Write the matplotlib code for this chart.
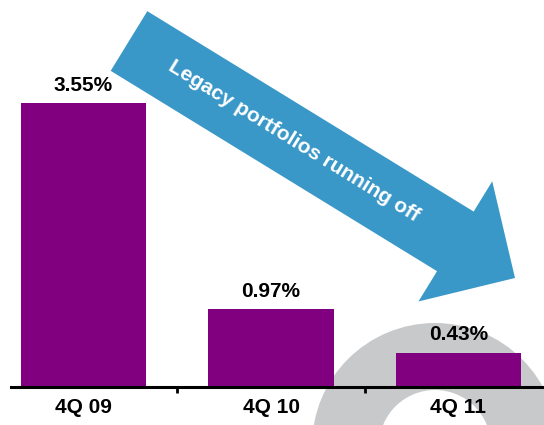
import matplotlib
matplotlib.use("Agg")
import matplotlib.pyplot as plt
from matplotlib.patches import Wedge, FancyArrow
from matplotlib.transforms import Affine2D

quarters = ["4Q 09", "4Q 10", "4Q 11"]
rates = [3.55, 0.97, 0.43]
arrow_text = "Legacy portfolios running off"

purple = "#800080"
blue = "#3a98c8"
ring_grey = "#c8c9cb"

plt.rcParams["font.family"] = ["Liberation Sans", "DejaVu Sans"]

W, H = 544, 425
fig = plt.figure(figsize=(W / 100, H / 100), dpi=100)
# pixel coords with origin at the top-left corner
px = Affine2D().scale(1 / 100, -1 / 100).translate(0, H / 100) + fig.dpi_scale_trans

# grey ring in the lower right corner
ring = Wedge((435, 446), 123, 0, 360, width=67, facecolor=ring_grey,
             edgecolor="none", transform=px, zorder=-1)
fig.add_artist(ring)

ax = fig.add_axes([11 / W, 38 / H, 532 / W, 387 / H])
ax.patch.set_visible(False)

x = list(range(len(quarters)))
ax.bar(x, rates, width=0.667, color=purple, zorder=2)
for xi, v in zip(x, rates):
    ax.annotate(f"{v:.2f}%", (xi, v), xytext=(0, 6), textcoords="offset points",
                ha="center", va="bottom", fontsize=15, fontweight="bold")

ax.set_xlim(-0.387, 2.451)
ax.set_ylim(0, 4.84)
for s in ["top", "left", "right"]:
    ax.spines[s].set_visible(False)
ax.spines["bottom"].set_linewidth(2.2)
ax.spines["bottom"].set_zorder(3)
ax.set_yticks([])
ax.set_xticks(x)
ax.set_xticklabels(quarters, fontsize=15, fontweight="bold")
ax.set_xticks([0.5, 1.5], minor=True)
ax.tick_params(axis="x", which="major", length=0, pad=8)
ax.tick_params(axis="x", which="minor", length=4, width=2, direction="out")

# downward arrow across the top
arr = FancyArrow(129, 41, 386, 237, width=70, head_width=141, head_length=70,
                 length_includes_head=True, facecolor=blue, edgecolor="none",
                 transform=px, zorder=5)
fig.add_artist(arr)
fig.text(294, 141, arrow_text, transform=px, rotation=-31.6, rotation_mode="anchor",
         ha="center", va="center", color="white", fontsize=15, fontweight="bold",
         zorder=6)

fig.savefig("out.png", dpi=100)
